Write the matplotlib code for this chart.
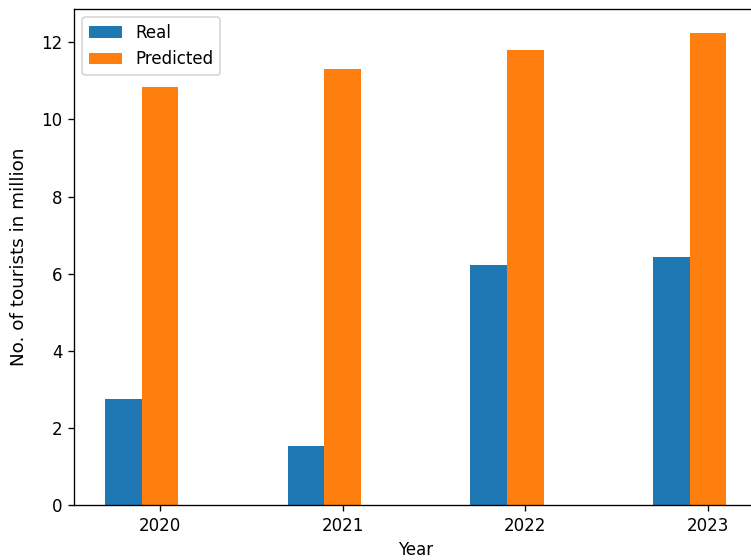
import numpy as np
import matplotlib
matplotlib.use('Agg')
import matplotlib.pyplot as plt

years = ['2020', '2021', '2022', '2023']
real = [2.75, 1.54, 6.22, 6.44]  # million tourists
predicted = [10.85, 11.31, 11.79, 12.25]

x = np.arange(len(years))
w = 0.2

fig = plt.figure(figsize=(751 / 120, 560 / 120), dpi=120)
# axes runs a little past the right edge, like the cropped original
ax = fig.add_axes([74 / 751, 55 / 560, 683.3 / 751, 496 / 560])

ax.bar(x - w, real, width=w, label='Real')
ax.bar(x, predicted, width=w, label='Predicted')

ax.set_xticks(x)
ax.set_xticklabels(years)
ax.set_xlabel('Year')
ax.set_ylabel('No. of tourists in million', fontsize=11)
ax.yaxis.set_label_coords(-0.068, 0.5)
ax.spines['right'].set_visible(False)  # cut off in the original picture
ax.legend(loc='upper left')

fig.savefig('out.png', dpi=120)
